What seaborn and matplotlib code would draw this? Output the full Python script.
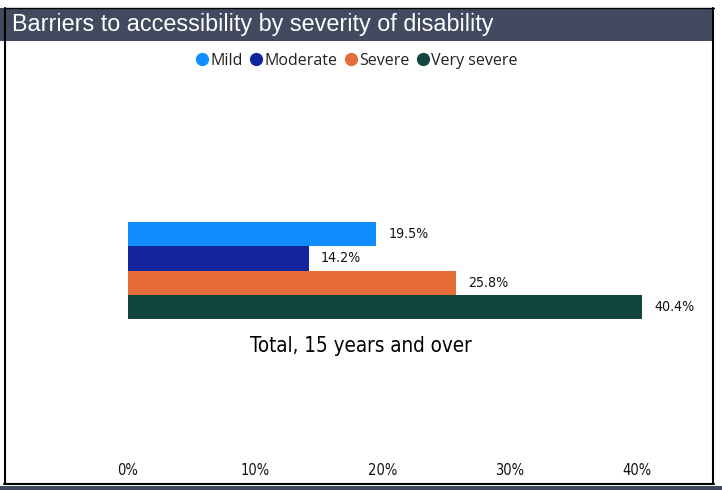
import matplotlib
matplotlib.use("Agg")
import matplotlib.pyplot as plt
import seaborn as sns
import pandas as pd
from matplotlib.lines import Line2D
from matplotlib.patches import Rectangle

categories = ["Total, 15 years and over"]
severity = ["Mild", "Moderate", "Severe", "Very severe"]
values = [19.5, 14.2, 25.8, 40.4]
xticks = [0, 10, 20, 30, 40]
xtick_labels = ["0%", "10%", "20%", "30%", "40%"]
colors = ["#118DFF", "#12239E", "#E66C37", "#134540"]

df = pd.DataFrame({"category": categories * len(severity),
                   "severity": severity, "value": values})

sns.set_theme(style="white")
plt.rcParams['font.family'] = ['DejaVu Sans']

W, H = 722, 490
fig = plt.figure(figsize=(W / 100, H / 100), dpi=100)

# axes geometry in pixels
x0_px, x40_px = 128, 636.5
px_per_unit = (x40_px - x0_px) / 40.0
xmax = 45
ax_left, ax_right = x0_px, x0_px + xmax * px_per_unit
ax_top, ax_bot = 60, 455
ax = fig.add_axes([ax_left / W, 1 - ax_bot / H, (ax_right - ax_left) / W, (ax_bot - ax_top) / H])

sns.barplot(data=df, y="category", x="value", hue="severity", hue_order=severity,
            palette=colors, saturation=1, orient="h", width=0.8, ax=ax, legend=False,
            edgecolor="none", linewidth=0)

ypx = 121.0
center = 270.5
ax.set_ylim((ax_bot - center) / ypx, -(center - ax_top) / ypx)
ax.set_xlim(0, xmax)
for s in ax.spines.values():
    s.set_visible(False)
ax.set_yticks([])
ax.set_ylabel("")
ax.set_xlabel("")
ax.set_xticks(xticks)
ax.set_xticklabels(xtick_labels, fontsize=10.5, color="#111111", fontstretch="condensed")
ax.tick_params(axis="x", length=0, pad=6)

for cont in ax.containers:
    ax.bar_label(cont, labels=[f"{v:.1f}%" for v in cont.datavalues], padding=9,
                 fontsize=10.2, color="#111111", fontstretch="condensed")

fig.text(361 / W, 1 - 346 / H, categories[0], ha="center", va="center",
         fontsize=14.8, color="#000000", fontstretch="condensed")

# title band and borders
fig.patches.append(Rectangle((0, 1 - 41 / H), 712 / W, 33 / H, transform=fig.transFigure,
                             facecolor="#414A5F", edgecolor="none", zorder=0))
fig.text(12 / W, 1 - 24.5 / H, "Barriers to accessibility by severity of disability",
         ha="left", va="center", fontsize=16.8, color="white",
         family=['Liberation Sans', 'DejaVu Sans'])
fig.add_artist(Line2D([4.5 / W, 4.5 / W], [1 - 8 / H, 1 - 484 / H], color="black", lw=1.5,
                      transform=fig.transFigure))
fig.add_artist(Line2D([713 / W, 713 / W], [1 - 8 / H, 1 - 484 / H], color="black", lw=1.5,
                      transform=fig.transFigure))
fig.add_artist(Line2D([4 / W, 714 / W], [1 - 8 / H, 1 - 8 / H], color="black", lw=1,
                      transform=fig.transFigure))
fig.add_artist(Line2D([4 / W, 714 / W], [1 - 483.5 / H, 1 - 483.5 / H], color="black", lw=1.5,
                      transform=fig.transFigure))
fig.patches.append(Rectangle((0, 0), 1, 4 / H, transform=fig.transFigure,
                             facecolor="#414A5F", edgecolor="none"))

handles = [Line2D([], [], marker="o", linestyle="none", markersize=8.5,
                  markerfacecolor=c, markeredgecolor=c) for c in colors]
fig.legend(handles, severity, loc="center", bbox_to_anchor=(357 / W, 1 - 61 / H),
           ncol=4, frameon=False, handlelength=0.7, handletextpad=0.15, columnspacing=0.5,
           labelcolor="#222222",
           prop={"family": ["Open Sans", "DejaVu Sans"], "size": 11.5})

fig.savefig("out.png", dpi=100)
